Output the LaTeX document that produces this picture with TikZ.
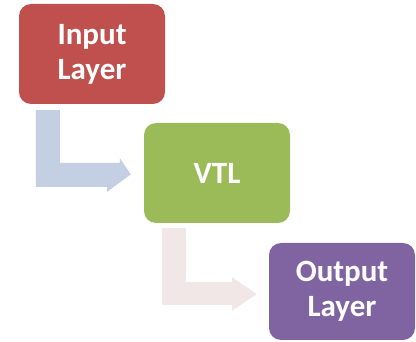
\documentclass[tikz,border=0pt]{standalone}
\usepackage{fontspec}
\setmainfont{Carlito}
\usetikzlibrary{calc}
\definecolor{boxred}{HTML}{C0504D}
\definecolor{boxgreen}{HTML}{9BBB59}
\definecolor{boxpurple}{HTML}{8064A2}
\definecolor{arrowblue}{HTML}{C4CFE3}
\definecolor{arrowpink}{HTML}{F2E7E7}
\begin{document}
\begin{tikzpicture}[x=1pt,y=-1pt,
  layerbox/.style={rounded corners=12pt, minimum width=146pt, text=white,
    font=\fontsize{31}{35}\selectfont\bfseries, align=center, inner sep=0pt},
  bentarrow/.style={draw=none}]
\useasboundingbox (0,0) rectangle (416,342);
\node[layerbox, fill=boxred, minimum height=100pt] (in) at (92,54) {Input\\Layer};
\node[layerbox, fill=boxgreen, minimum height=100pt] (vtl) at (217,173) {VTL};
\node[layerbox, fill=boxpurple, minimum height=97pt] (out) at (342,291.5) {Output\\Layer};
% bent arrow from Input Layer to VTL
\fill[arrowblue] ($(in.south west)+(17,6)$) coordinate (a1) -- ++(24,0) |- ($(vtl.west)+(-24,-10)$) -- ++(0,-5) -- ($(vtl.west)+(-13,1.5)$) -- ($(vtl.west)+(-37,19)$) -- ++(0,-5) -| (a1) -- cycle;
% bent arrow from VTL to Output Layer
\fill[arrowpink] ($(vtl.south west)+(18,5)$) coordinate (a2) -- ++(24,0) |- ($(out.west)+(-37,-9.5)$) -- ++(0,-5) -- ($(out.west)+(-12,2.5)$) -- ($(out.west)+(-37,19.5)$) -- ++(0,-6) -| (a2) -- cycle;
\end{tikzpicture}
\end{document}
